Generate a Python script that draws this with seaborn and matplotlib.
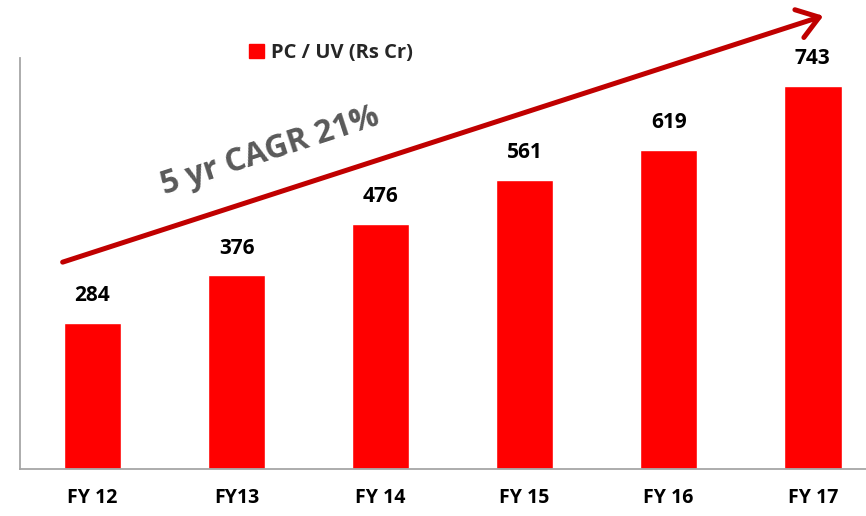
import matplotlib
matplotlib.use("Agg")
import matplotlib.pyplot as plt
import seaborn as sns
import pandas as pd

categories = ["FY 12", "FY13", "FY 14", "FY 15", "FY 16", "FY 17"]
values = [284, 376, 476, 561, 619, 743]
series_name = "PC / UV (Rs Cr)"
cagr_text = "5 yr CAGR 21%"

sns.set_theme(style="white")
plt.rcParams['font.family'] = ['Open Sans', 'DejaVu Sans']

df = pd.DataFrame({"cat": categories, "val": values})

fig = plt.figure(figsize=(8.66, 5.16), dpi=100)
ax = fig.add_axes([20/866, 47/516, 846/866, 411/516])
sns.barplot(data=df, x="cat", y="val", color="#FF0000", width=0.4,
            saturation=1, ax=ax, label=series_name)

ax.set_xlim(-0.503, 5.37)
ax.set_ylim(0, 797)
ax.set_xlabel("")
ax.set_ylabel("")
ax.set_yticks([])
for s in ["top", "right"]:
    ax.spines[s].set_visible(False)
for s in ["left", "bottom"]:
    ax.spines[s].set_color("#A6A6A6")
    ax.spines[s].set_linewidth(1.3)
ax.tick_params(axis="x", length=0, pad=14, labelsize=14)
for lab in ax.get_xticklabels():
    lab.set_fontweight("bold")
    lab.set_color("black")

for i, v in enumerate(values):
    ax.annotate(f"{v}", xy=(i, v), xytext=(0, 19.5), textcoords="offset points",
                ha="center", va="center", fontsize=15, fontweight="bold", color="black")

leg = ax.legend(loc="center left", bbox_to_anchor=(249/866, 1 - 53/516),
                bbox_transform=fig.transFigure, frameon=False, fontsize=14.5,
                handlelength=0.75, handleheight=0.75, handletextpad=0.35,
                borderpad=0, borderaxespad=0)
for t in leg.get_texts():
    t.set_fontweight("bold")
for h in leg.legend_handles:
    h.set_facecolor("#FF0000")
    h.set_edgecolor("#FF0000")

# growth arrow (open arrowhead)
fig.patches.append(matplotlib.patches.FancyArrowPatch(
    (60/866, 1 - 263/516), (826/866, 1 - 15/516), transform=fig.transFigure,
    arrowstyle="->,head_length=10,head_width=7", mutation_scale=1.5,
    color="#C00000", linewidth=3.6, capstyle="round", joinstyle="round"))

fig.text(270/866, 1 - 151/516, cagr_text, rotation=18, ha="center", va="center",
         fontsize=23, fontweight="bold", color="#595959", rotation_mode="anchor")

fig.savefig("out.png", dpi=100)
